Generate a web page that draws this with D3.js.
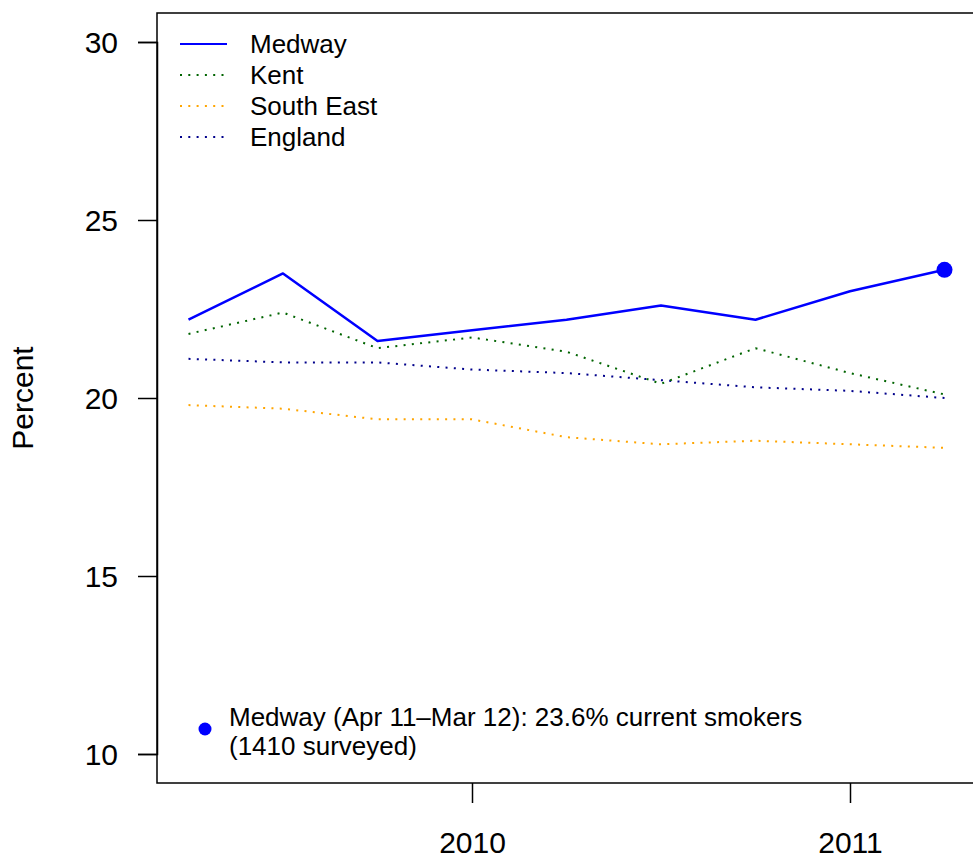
<!DOCTYPE html>
<html><head><meta charset="utf-8">
<script src="https://cdn.jsdelivr.net/npm/d3@7"></script>
<style>
html,body{margin:0;padding:0;background:#fff;overflow:hidden}
text{font-family:"Liberation Sans",Arial,Helvetica,sans-serif;fill:#000}
</style></head>
<body>
<svg id="chart" width="973" height="859"></svg>
<script>
const periods = [2009.25, 2009.5, 2009.75, 2010, 2010.25, 2010.5, 2010.75, 2011, 2011.25];
const medway = [22.2, 23.5, 21.6, 21.9, 22.2, 22.6, 22.2, 23.0, 23.6];
const kent = [21.8, 22.4, 21.4, 21.7, 21.3, 20.4, 21.4, 20.7, 20.1];
const southEast = [19.8, 19.7, 19.4, 19.4, 18.9, 18.7, 18.8, 18.7, 18.6];
const england = [21.1, 21.0, 21.0, 20.8, 20.7, 20.5, 20.3, 20.2, 20.0];
const seriesNames = ["Medway", "Kent", "South East", "England"];
const yTicks = [10, 15, 20, 25, 30];
const xTicks = [2010, 2011];
const xTickLabels = ["2010", "2011"];
const latestLabel = ["Medway (Apr 11\u2013Mar 12): 23.6% current smokers", "(1410 surveyed)"];

const seriesValues = [medway, kent, southEast, england];
const colors = ["#0000FF", "#006400", "#FFA500", "#00008B"];
const dashed = [false, true, true, true];

const svg = d3.select("#chart");
const x = d3.scaleLinear().domain([2009.25, 2011.25]).range([188.5, 944.5]);
const y = d3.scaleLinear().domain([10, 30]).range([754, 42]);

const box = {left: 157, top: 13, bottom: 783, right: 990};
svg.append("rect").attr("x", box.left).attr("y", box.top)
  .attr("width", box.right - box.left).attr("height", box.bottom - box.top)
  .attr("fill", "none").attr("stroke", "#000").attr("stroke-width", 1.5);

// Y axis
const yAxis = d3.axisLeft(y).tickValues(yTicks).tickSize(19).tickPadding(20).tickFormat(d3.format("d"));
const gy = svg.append("g").attr("transform", `translate(${box.left},0)`).call(yAxis);
gy.select(".domain").attr("stroke-width", 1.5);
gy.selectAll(".tick line").attr("stroke-width", 1.5);
gy.selectAll(".tick text").attr("font-size", 30).attr("font-family", "Liberation Sans, Arial, sans-serif").attr("dy", "0.36em");

// X axis
const xAxis = d3.axisBottom(x).tickValues(xTicks).tickSize(20).tickPadding(29).tickFormat((d, i) => xTickLabels[i]);
const gx = svg.append("g").attr("transform", `translate(0,${box.bottom})`).call(xAxis);
gx.select(".domain").remove();
gx.selectAll(".tick line").attr("stroke-width", 1.5);
gx.selectAll(".tick text").attr("font-size", 30).attr("font-family", "Liberation Sans, Arial, sans-serif");

// Y label
svg.append("text").attr("transform", "translate(22,398) rotate(-90)")
  .attr("text-anchor", "middle").attr("dy", "0.36em").attr("font-size", 30).text("Percent");

// Lines
const line = d3.line().x((d, i) => x(periods[i])).y(d => y(d));
const order = [3, 2, 1, 0];
order.forEach(k => {
  svg.append("path").datum(seriesValues[k]).attr("d", line)
    .attr("fill", "none").attr("stroke", colors[k])
    .attr("stroke-width", dashed[k] ? 2 : 2.5)
    .attr("stroke-dasharray", dashed[k] ? "2,6.3" : null)
    .attr("stroke-linejoin", "round");
});

// Latest point
const last = medway.length - 1;
svg.append("circle").attr("cx", x(periods[last])).attr("cy", y(medway[last])).attr("r", 8).attr("fill", colors[0]);

// Legend
const legend = svg.append("g");
seriesNames.forEach((name, i) => {
  const ly = 44 + i * 31;
  legend.append("line").attr("x1", 180).attr("x2", 227).attr("y1", ly).attr("y2", ly)
    .attr("stroke", colors[i]).attr("stroke-width", 2)
    .attr("stroke-dasharray", dashed[i] ? "2,6.3" : null);
  legend.append("text").attr("x", 250).attr("y", ly).attr("dy", "0.36em").attr("font-size", 26).text(name);
});

// Annotation
svg.append("circle").attr("cx", 205).attr("cy", 729).attr("r", 6.5).attr("fill", colors[0]);
latestLabel.forEach((t, i) => {
  svg.append("text").attr("x", 229).attr("y", 717 + i * 29).attr("dy", "0.36em").attr("font-size", 26).text(t);
});
</script>
</body></html>
